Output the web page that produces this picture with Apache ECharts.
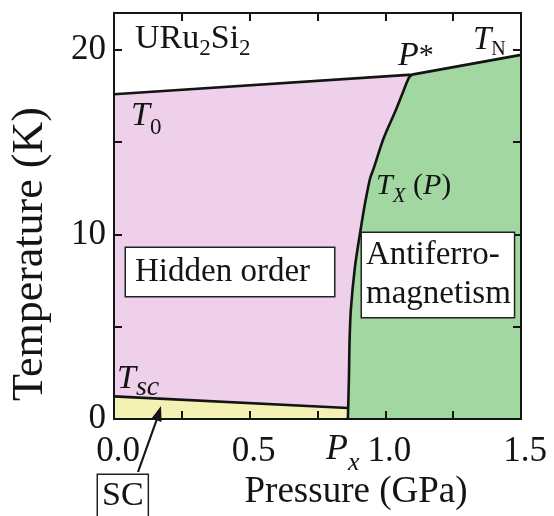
<!DOCTYPE html>
<html><head><meta charset="utf-8">
<script src="https://cdn.jsdelivr.net/npm/echarts@6/dist/echarts.min.js"></script>
<style>html,body{margin:0;padding:0;background:#fff}#c{width:554px;height:516px}</style>
</head><body><div id="c"></div>
<script>
// Phase boundaries of URu2Si2, points as [pressure (GPa), temperature (K)]
const T0_line  = [[0.0, 17.6], [1.098, 18.66]];
const TN_line  = [[1.098, 18.66], [1.5, 19.73]];
const Tx_curve = [[1.098, 18.66], [1.087, 18.50], [1.069, 17.86], [1.040, 16.79], [0.993, 15.19],
                  [0.957, 13.58], [0.944, 13.05], [0.931, 12.14], [0.922, 11.44], [0.906, 10.0],
                  [0.888, 8.24], [0.873, 5.94], [0.868, 4.12], [0.866, 2.35], [0.862, 0.0]];
const Tsc_line = [[0.0, 1.23], [0.862, 0.6]];
const xTickLabels = [0.0, 0.5, 1.0, 1.5];
const yTickLabels = [0, 10, 20];
const X_MIN = 0, X_MAX = 1.5, Y_MIN = 0, Y_MAX = 22;

const F = 'Liberation Serif';
const INK = '#141414';

// Build region polygons from the boundary arrays
const tscEnd = Tsc_line[Tsc_line.length - 1];
const pxPoint = Tx_curve[Tx_curve.length - 1];
const curveAboveTsc = Tx_curve.slice(1).filter(p => p[1] > tscEnd[1]);
const regions = [
  { color: '#efd0ea', pts: [...T0_line, ...curveAboveTsc, ...Tsc_line.slice().reverse()] },
  { color: '#a3d7a1', pts: [...TN_line, [X_MAX, Y_MIN], [pxPoint[0], Y_MIN], ...Tx_curve.slice().reverse()] },
  { color: '#f4f1b5', pts: [...Tsc_line, [tscEnd[0], Y_MIN], [X_MIN, Y_MIN]] }
];

const chart = echarts.init(document.getElementById('c'));

const axisCommon = {
  z: 5,
  axisLine: { show: true, onZero: false, lineStyle: { color: INK, width: 2 } },
  axisTick: { show: true, inside: true, length: 8, lineStyle: { color: INK, width: 2 } },
  splitLine: { show: false }
};

const boundaryStyle = { color: INK, width: 2.6 };

const option = {
  backgroundColor: '#fff',
  animation: false,
  grid: { left: 108, right: 33, top: 13, bottom: 92, containLabel: false },
  xAxis: [
    Object.assign({}, axisCommon, {
      type: 'value', min: X_MIN, max: X_MAX, interval: 0.25, position: 'bottom',
      axisLabel: {
        margin: 15, fontSize: 35, fontFamily: F, color: INK, padding: [0, 0, 0, 8],
        formatter: v => xTickLabels.some(t => Math.abs(t - v) < 1e-6) ? v.toFixed(1) : ''
      },
      name: 'Pressure (GPa)', nameLocation: 'middle', nameGap: 54,
      nameTextStyle: { fontSize: 37, fontFamily: F, color: INK, padding: [0, 0, 0, 77] }
    }),
    Object.assign({}, axisCommon, {
      type: 'value', min: X_MIN, max: X_MAX, interval: 0.25, position: 'top',
      axisLabel: { show: false }
    })
  ],
  yAxis: [
    Object.assign({}, axisCommon, {
      type: 'value', min: Y_MIN, max: Y_MAX, interval: 5, position: 'left',
      axisLabel: {
        margin: 8, fontSize: 35, fontFamily: F, color: INK,
        formatter: v => yTickLabels.includes(v) ? String(v) : ''
      },
      name: 'Temperature (K)', nameLocation: 'middle', nameGap: 62, nameRotate: 90,
      nameTextStyle: { fontSize: 44, fontFamily: F, color: INK, padding: [0, 76, 0, 0] }
    }),
    Object.assign({}, axisCommon, {
      type: 'value', min: Y_MIN, max: Y_MAX, interval: 5, position: 'right',
      axisLabel: { show: false }
    })
  ],
  series: [
    {
      type: 'custom', z: 1, silent: true,
      data: regions.map((r, i) => [i, 0]),
      renderItem: (params, api) => {
        const r = regions[params.dataIndex];
        return {
          type: 'polygon',
          shape: { points: r.pts.map(p => api.coord(p)) },
          style: { fill: r.color, stroke: null }
        };
      }
    },
    { type: 'line', z: 3, data: T0_line.concat(TN_line.slice(1)), symbol: 'none', lineStyle: boundaryStyle },
    { type: 'line', z: 3, data: Tx_curve, symbol: 'none', smooth: 0.3, lineStyle: boundaryStyle },
    { type: 'line', z: 3, data: Tsc_line, symbol: 'none', lineStyle: boundaryStyle }
  ],
  graphic: []
};

function subLabel(x, y, main, sub, mainSize, subSize, italicSub, drop) {
  return {
    type: 'text', x: x, y: y, z: 20, silent: true,
    style: {
      text: `{m|${main}}{s|${sub}}`,
      textVerticalAlign: 'bottom',
      rich: {
        m: { fontSize: mainSize, fontFamily: F, fontStyle: 'italic', fill: INK, color: INK, verticalAlign: 'bottom', padding: [0, 0, drop, 0] },
        s: { fontSize: subSize, fontFamily: F, fontStyle: italicSub ? 'italic' : 'normal', fill: INK, color: INK, verticalAlign: 'bottom' }
      }
    }
  };
}

option.graphic = [
  {
    type: 'text', x: 135, y: 60, z: 20, silent: true,
    style: {
      text: '{m|URu}{s|2}{m|Si}{s|2}', textVerticalAlign: 'bottom',
      rich: {
        m: { fontSize: 34, fontFamily: F, fill: INK, color: INK, verticalAlign: 'bottom', padding: [0, 0, 4, 0] },
        s: { fontSize: 23, fontFamily: F, fill: INK, color: INK, verticalAlign: 'bottom' }
      }
    }
  },
  subLabel(131, 139, 'T', '0', 34, 23, false, 6),
  subLabel(473, 60, 'T', 'N', 33, 20, false, 3),
  {
    type: 'text', x: 398, y: 39, z: 20, silent: true,
    style: { text: '{p|P}{a|*}', textVerticalAlign: 'top',
      rich: { p: { fontSize: 34, fontFamily: F, fontStyle: 'italic', fill: INK, color: INK },
              a: { fontSize: 30, fontFamily: F, fill: INK, color: INK } } }
  },
  {
    type: 'text', x: 376, y: 207, z: 20, silent: true,
    style: {
      text: '{m|T}{s|X}{e| (}{i|P}{e|)}', textVerticalAlign: 'bottom',
      rich: {
        m: { fontSize: 30, fontFamily: F, fontStyle: 'italic', fill: INK, color: INK, verticalAlign: 'bottom', padding: [0, 0, 6, 0] },
        s: { fontSize: 21, fontFamily: F, fontStyle: 'italic', fill: INK, color: INK, verticalAlign: 'bottom' },
        e: { fontSize: 30, fontFamily: F, fill: INK, color: INK, verticalAlign: 'bottom', padding: [0, 0, 6, 0] },
        i: { fontSize: 30, fontFamily: F, fontStyle: 'italic', fill: INK, color: INK, verticalAlign: 'bottom', padding: [0, 0, 6, 0] }
      }
    }
  },
  subLabel(117, 402, 'T', 'sc', 34, 28, true, 6),
  {
    type: 'text', x: 126, y: 248, z: 20, silent: true,
    style: { text: 'Hidden order', fontSize: 33, fontFamily: F, fill: INK, lineHeight: 40,
      backgroundColor: '#fff', borderColor: '#222', borderWidth: 1.5, padding: [4, 24, 4, 9] }
  },
  {
    type: 'text', x: 362, y: 233, z: 20, silent: true,
    style: { text: 'Antiferro-\nmagnetism', fontSize: 33, fontFamily: F, fill: INK, lineHeight: 39,
      backgroundColor: '#fff', borderColor: '#222', borderWidth: 1.5, padding: [3, 3, 3, 4] }
  },
  {
    type: 'text', x: 98, y: 475, z: 20, silent: true,
    style: { text: 'SC', fontSize: 34, fontFamily: F, fill: INK, lineHeight: 38,
      backgroundColor: '#fff', borderColor: '#222', borderWidth: 1.5, padding: [2, 4, 2, 4] }
  },
  subLabel(326, 476, 'P', 'x', 36, 26, true, 8),
  { type: 'line', z: 20, silent: true, shape: { x1: 138, y1: 472, x2: 158, y2: 416 }, style: { stroke: INK, lineWidth: 2.2 } },
  { type: 'polygon', z: 20, silent: true, shape: { points: [[161, 406], [161.5, 422], [151.5, 418.5]] }, style: { fill: INK } }
];

chart.setOption(option);
</script>
</body></html>
